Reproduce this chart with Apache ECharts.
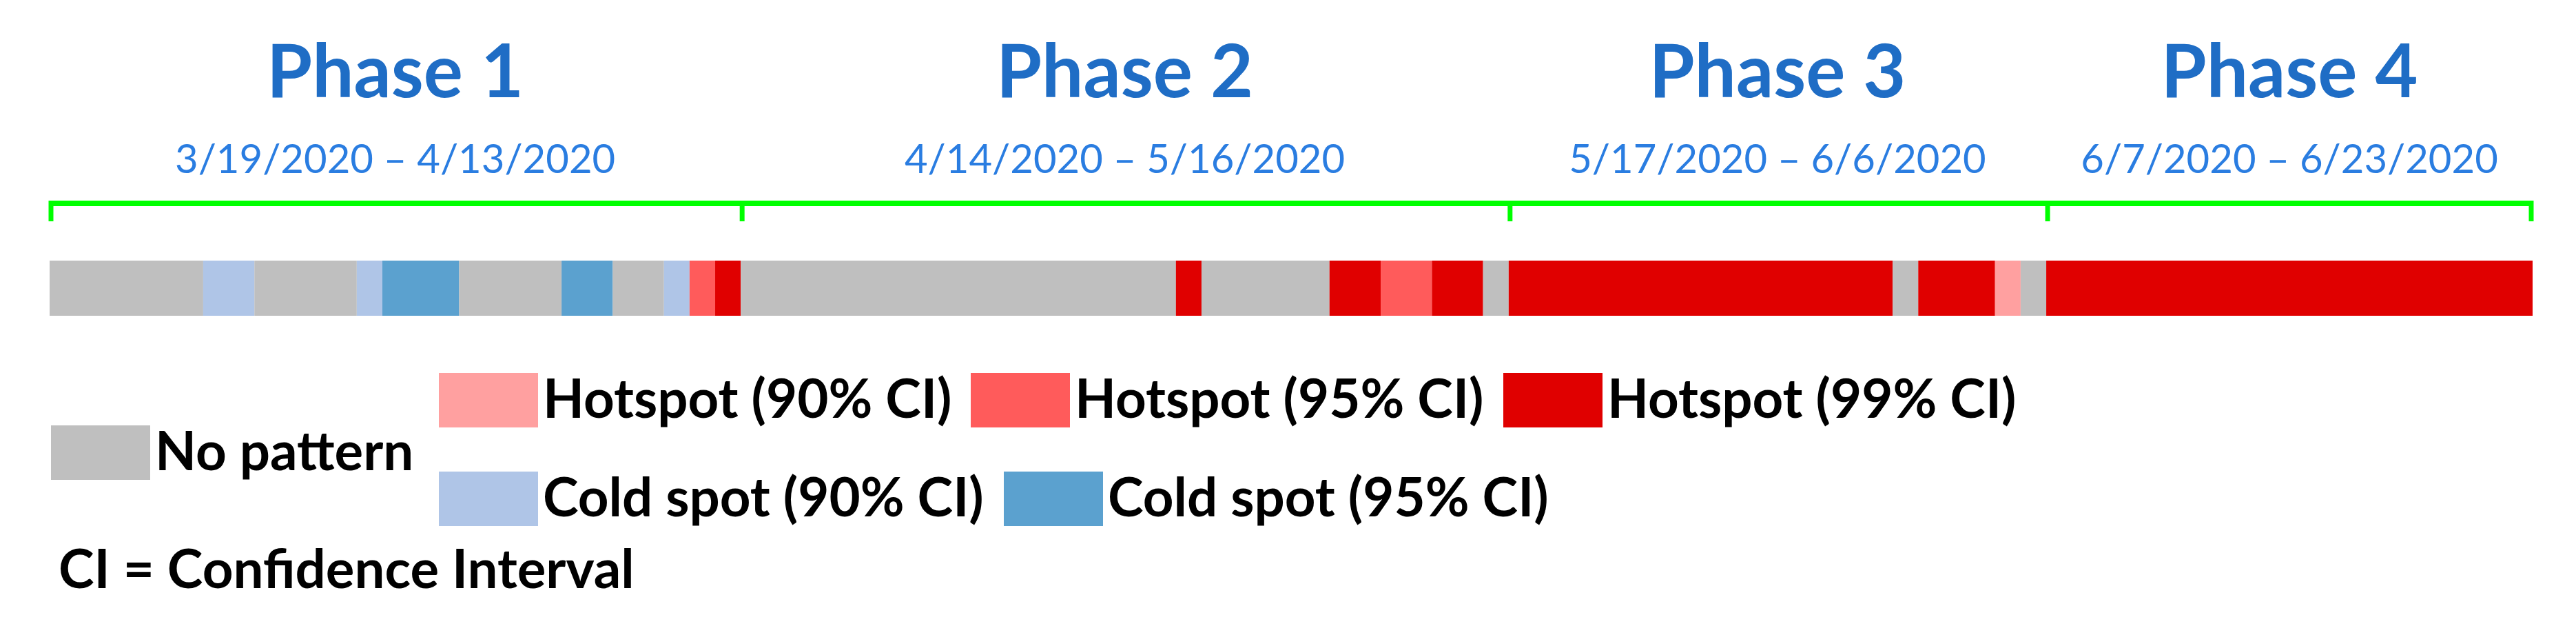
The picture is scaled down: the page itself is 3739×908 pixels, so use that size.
<!DOCTYPE html>
<html>
<head>
<meta charset="utf-8">
<title>Hotspot phases</title>
<script src="https://cdn.jsdelivr.net/npm/echarts/dist/echarts.min.js"></script>
<style>
html, body { margin: 0; background: #fff; }
#chart { width: 3739px; height: 908px; }
</style>
</head>
<body>
<div id="chart"></div>
<script>
// status of each run of days (in order) and its length in days
var runStatus = ['N', 'C90', 'N', 'C90', 'C95', 'N', 'C95', 'N', 'C90', 'H95', 'H99',
  'N', 'H99', 'N', 'H99', 'H95', 'H99', 'N',
  'H99', 'N', 'H99', 'H90', 'N',
  'H99']
var runDays = [6, 2, 4, 1, 3, 4, 2, 2, 1, 1, 1,
  17, 1, 5, 2, 2, 2, 1,
  15, 1, 3, 1, 1,
  19]

var phaseNames = ['Phase 1', 'Phase 2', 'Phase 3', 'Phase 4']
var phaseDates = ['3/19/2020 \u2013 4/13/2020', '4/14/2020 \u2013 5/16/2020', '5/17/2020 \u2013 6/6/2020', '6/7/2020 \u2013 6/23/2020']
var phaseDays = [27, 30, 21, 19]

var statusCodes = ['N', 'H90', 'H95', 'H99', 'C90', 'C95']
var statusLabels = ['No pattern', 'Hotspot (90% CI)', 'Hotspot (95% CI)', 'Hotspot (99% CI)', 'Cold spot (90% CI)', 'Cold spot (95% CI)']

var colors = {
  N: '#bfbfbf',
  H90: '#ffa0a0',
  H95: '#ff5b5b',
  H99: '#e00000',
  C90: '#afc5e7',
  C95: '#5ba1cf'
}

function labelOf(code) {
  return statusLabels[statusCodes.indexOf(code)]
}

var totalDays = runDays.reduce(function(s, d) { return s + d }, 0)

// one stacked bar piece per run
var series = runStatus.map(function(code, i) {
  return {
    type: 'bar',
    name: labelOf(code),
    stack: 'days',
    barWidth: 80,
    silent: true,
    itemStyle: { color: colors[code] },
    data: [runDays[i]]
  }
})

// phase brackets + titles
var phaseData = []
var start = 0
phaseDays.forEach(function(d, i) {
  phaseData.push([start, start + d, i])
  start += d
})

var green = '#00ff00'
series.push({
  type: 'custom',
  silent: true,
  clip: false,
  data: phaseData,
  encode: { x: [0, 1] },
  renderItem: function(params, api) {
    var i = api.value(2)
    var a = api.coord([api.value(0), 0])
    var b = api.coord([api.value(1), 0])
    var y = a[1] - 123
    var mid = (a[0] + b[0]) / 2
    var kids = [
      { type: 'line', shape: { x1: a[0], y1: y, x2: b[0], y2: y }, style: { stroke: green, lineWidth: 8 } },
      { type: 'line', shape: { x1: a[0] + 2, y1: y - 4, x2: a[0] + 2, y2: y + 26 }, style: { stroke: green, lineWidth: 7 } },
      {
        type: 'text', x: mid, y: 106,
        style: { text: phaseNames[i], textAlign: 'center', textVerticalAlign: 'middle', fill: '#1f6dc5',
          font: 'bold 107px Lato' }
      },
      {
        type: 'text', x: mid, y: 232,
        style: { text: phaseDates[i], textAlign: 'center', textVerticalAlign: 'middle', fill: '#2a7de1',
          font: '58px Lato' }
      }
    ]
    if (i === phaseDays.length - 1) {
      kids.push({ type: 'line', shape: { x1: b[0] - 2, y1: y - 4, x2: b[0] - 2, y2: y + 26 }, style: { stroke: green, lineWidth: 7 } })
    }
    return { type: 'group', children: kids }
  }
})

// legend layout: [code, left, top]
var legendPos = [
  ['N', 74, 617],
  ['H90', 637, 541],
  ['H95', 1409, 541],
  ['H99', 2182, 541],
  ['C90', 637, 684],
  ['C95', 1457, 684]
]
var legends = legendPos.map(function(p) {
  return {
    data: [labelOf(p[0])],
    left: p[1],
    top: p[2],
    padding: 0,
    icon: 'rect',
    itemWidth: 144,
    itemHeight: 79,
    selectedMode: false,
    textStyle: { fontFamily: 'Lato', fontWeight: 'bold', fontSize: 78, color: '#000', padding: [0, 0, 0, 2] }
  }
})

var chart = echarts.init(document.getElementById('chart'))
chart.setOption({
  backgroundColor: '#fff',
  animation: false,
  title: {
    text: 'CI = Confidence Interval',
    left: 80,
    top: 784,
    textStyle: { fontFamily: 'Lato', fontWeight: 'bold', fontSize: 78, color: '#000' }
  },
  legend: legends,
  grid: { left: 72, right: 63, top: 378, height: 80 },
  xAxis: { type: 'value', min: 0, max: totalDays, show: false },
  yAxis: { type: 'category', data: ['days'], show: false },
  series: series
})
</script>
</body>
</html>
